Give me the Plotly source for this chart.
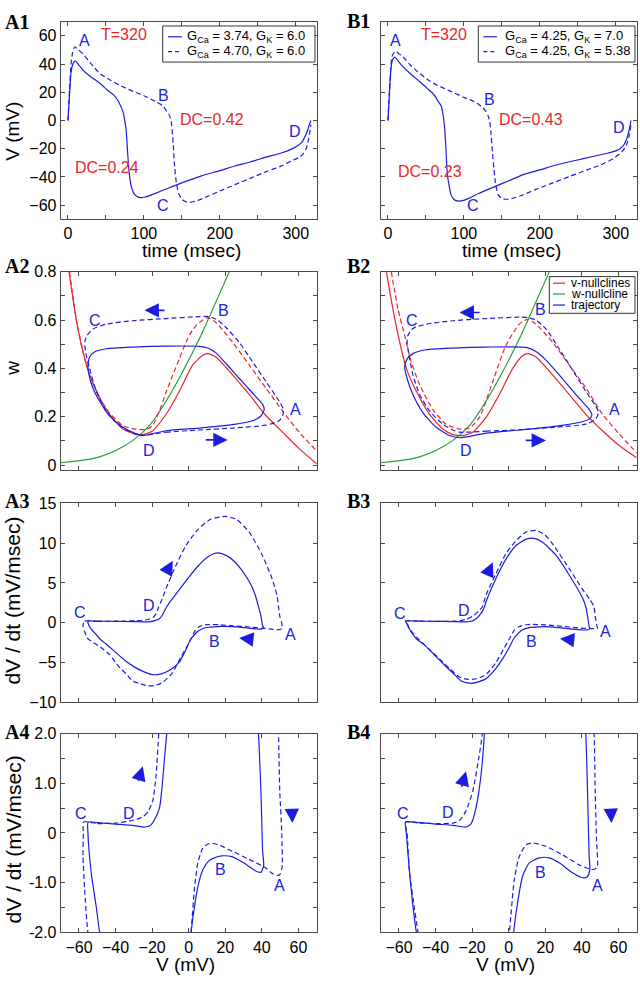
import plotly.graph_objects as go
from plotly.subplots import make_subplots

# ---------------- data ----------------
# A1: V(t) over one period, GCa = 3.74 (solid) / 4.70 (dashed), GK = 6.0
a1_t_sol = [0, 2, 4, 6, 8, 10, 14, 20, 30, 42, 52, 60, 66, 70, 73, 75, 76.5, 78, 79.5, 81.5, 84, 88, 94,
            102, 115, 130, 150, 175, 200, 220, 240, 262, 280, 293, 302, 308, 312, 315, 318, 320]
a1_v_sol = [0, 18, 34, 39.5, 41.7, 42, 39.5, 35.6, 31, 26.4, 21.5, 18.2, 14, 9.5, 5, -1, -6, -18, -30, -41,
            -48, -52.5, -54.6, -54.2, -51.6, -48.4, -44.2, -39.4, -35.5, -32.2, -29.4, -25.8, -23.2, -20.6,
            -18, -15.5, -11.5, -8, -3, 0]
a1_t_das = [0, 2, 4, 6, 9, 13, 20, 30, 42, 55, 70, 86, 100, 115, 125, 130, 134, 136.5, 138.5, 140.5, 143,
            146, 150, 155, 161, 170, 185, 200, 220, 240, 262, 280, 297, 305, 310, 314, 317, 320]
a1_v_das = [0, 22, 40, 48, 52.3, 50.5, 47, 40.5, 33.3, 28.9, 24.5, 20.6, 17.6, 13.6, 10.3, 6.5, 3.3, -3, -16,
            -33, -45, -52, -55.8, -57.5, -58, -56.8, -53.5, -50, -45.4, -41, -36, -32.5, -28, -26, -23.5,
            -19.5, -13, -3]

# B1: GK = 7.0 (solid) / 5.38 (dashed), GCa = 4.25
b1_t_sol = [0, 2, 4, 6, 9, 13, 20, 30, 42, 52, 60, 66, 70, 72, 73.5, 75, 76.5, 78, 80, 83, 87, 91, 96, 105,
            120, 140, 160, 180, 200, 220, 245, 270, 290, 300, 306, 311, 315, 318, 320]
b1_v_sol = [0, 20, 37, 43, 45, 42.5, 38, 33, 27.5, 22.6, 18.7, 13.7, 10.5, 6, 0.5, -8, -22, -37, -44.6, -52.5,
            -56, -57, -57, -55.5, -51.5, -47, -42.5, -38, -35, -31.7, -28.5, -25.5, -23, -21.5, -19.8, -17,
            -12, -6, 0]
b1_t_das = [0, 2, 4, 6, 10, 14, 20, 30, 42, 55, 64, 75, 86, 100, 108, 118, 125, 129, 132, 134, 135.5, 137.5,
            139.5, 141.5, 145, 150, 155, 163, 175, 195, 218, 240, 262, 280, 297, 308, 314, 318, 320]
b1_v_das = [0, 22, 40, 46.5, 49, 47.5, 45, 39, 33.3, 28, 25.2, 22.5, 19.9, 16.4, 14.8, 12, 9, 6.5, 3.2, -1,
            -8, -22, -34, -44, -52.5, -55.2, -55.8, -55.3, -53.3, -48.8, -44, -39.5, -35, -31.5, -26.9,
            -22.2, -17.5, -10, -3]

# A2 / B2: phase plane (V, w)
wnull_v = [-70.2, -57.8, -48.7, -39.6, -30.5, -21.5, -12.4, -3.3, 5.8, 13.1, 22.2]
wnull_w = [0.0095, 0.02, 0.034, 0.061, 0.102, 0.163, 0.264, 0.386, 0.522, 0.644, 0.8]

a2_vnull_sol_v = [-65.5, -61.5, -57.8, -54.2, -48.7, -43.3, -36, -30, -25, -19.6, -12.4, -5.1, 2.2, 7.6, 10.4,
                  14.9, 24, 33.1, 42.2, 51.3, 60.4, 70]
a2_vnull_sol_w = [0.8, 0.603, 0.468, 0.373, 0.278, 0.21, 0.149, 0.13, 0.126, 0.142, 0.21, 0.305, 0.414, 0.454,
                  0.461, 0.447, 0.373, 0.292, 0.205, 0.136, 0.068, 0.005]
a2_vnull_das_v = [-65.2, -61.5, -57.8, -54.2, -48.7, -43.3, -36, -30, -23.3, -19.6, -16, -12.4, -8.7, -5.1,
                  -1.5, 2.2, 5.8, 10.4, 14.9, 24, 33.1, 42.2, 51.3, 60.4, 70]
a2_vnull_das_w = [0.8, 0.603, 0.468, 0.373, 0.278, 0.215, 0.163, 0.15, 0.147, 0.165, 0.224, 0.3, 0.373, 0.44,
                  0.508, 0.56, 0.59, 0.61, 0.59, 0.508, 0.414, 0.319, 0.224, 0.136, 0.058]
a2_traj_sol_v = [-25.1, -12.4, 5.8, 24, 34.9, 39.5, 41.3, 40.4, 34.9, 27.6, 20.4, 14.9, 10.4, 5.8, -12.4,
                 -30.5, -45.1, -51.5, -54.2, -55.1, -54.5, -52.4, -48.7, -43.3, -36, -28.7, -25.1]
a2_traj_sol_w = [0.122, 0.142, 0.153, 0.167, 0.183, 0.203, 0.23, 0.251, 0.298, 0.359, 0.42, 0.464, 0.484,
                 0.491, 0.492, 0.488, 0.481, 0.468, 0.447, 0.414, 0.373, 0.319, 0.264, 0.203, 0.156, 0.129,
                 0.122]
a2_traj_das_v = [-26.9, -12.4, 5.8, 24, 42.2, 49.5, 51.6, 51.8, 49.5, 42.2, 34.9, 27.6, 20.4, 15.8, 11.3, 5.8,
                 -12.4, -30.5, -45.1, -52.4, -55.6, -56.9, -56, -54.2, -50.5, -45.1, -37.8, -30.5, -26.9]
a2_traj_das_w = [0.122, 0.136, 0.145, 0.153, 0.165, 0.183, 0.21, 0.23, 0.264, 0.346, 0.427, 0.508, 0.569, 0.6,
                 0.614, 0.614, 0.606, 0.597, 0.583, 0.563, 0.536, 0.508, 0.454, 0.4, 0.305, 0.224, 0.163,
                 0.132, 0.122]

b2_vnull_sol_v = [-66.9, -63.3, -59.6, -56, -50.5, -43.3, -36, -30.5, -25.1, -19.6, -12.4, -5.1, 2.2, 7.6,
                  10.4, 14.9, 24, 33.1, 42.2, 51.3, 60.4, 70]
b2_vnull_sol_w = [0.8, 0.644, 0.508, 0.4, 0.305, 0.21, 0.149, 0.126, 0.122, 0.136, 0.197, 0.292, 0.4, 0.452,
                  0.461, 0.447, 0.373, 0.292, 0.21, 0.142, 0.081, 0.03]
b2_vnull_das_v = [-64.2, -60.5, -56.9, -53.3, -48.7, -41.5, -34.2, -26.9, -21.5, -16, -8.7, -1.5, 5.8, 10.4,
                  14.9, 24, 33.1, 42.2, 51.3, 60.4, 70]
b2_vnull_das_w = [0.8, 0.644, 0.536, 0.427, 0.332, 0.23, 0.169, 0.149, 0.153, 0.197, 0.346, 0.495, 0.583,
                  0.603, 0.583, 0.508, 0.414, 0.319, 0.21, 0.129, 0.05]
b2_traj_sol_v = [-26.9, -12.4, 5.8, 24, 38.5, 44, 45.5, 44, 36.7, 27.6, 20.4, 14.9, 9.5, -12.4, -30.5, -45.1,
                 -52.4, -55.6, -56.9, -55.6, -52.4, -46.9, -39.6, -32.4, -26.9]
b2_traj_sol_w = [0.113, 0.132, 0.145, 0.159, 0.176, 0.19, 0.207, 0.23, 0.292, 0.373, 0.434, 0.47, 0.487,
                 0.488, 0.484, 0.477, 0.461, 0.438, 0.407, 0.359, 0.292, 0.217, 0.156, 0.122, 0.113]
b2_traj_das_v = [-26.9, -12.4, 5.8, 24, 42.2, 47.6, 49.1, 47.6, 42.2, 34.9, 27.6, 20.4, 14.9, 10.4, 5.8,
                 -12.4, -30.5, -45.1, -52.4, -55.1, -55.6, -54.5, -52.4, -48.7, -43.3, -36, -30.5, -26.9]
b2_traj_das_w = [0.136, 0.14, 0.146, 0.156, 0.169, 0.19, 0.217, 0.244, 0.305, 0.393, 0.481, 0.563, 0.6, 0.61,
                 0.612, 0.606, 0.597, 0.583, 0.565, 0.536, 0.508, 0.454, 0.373, 0.292, 0.224, 0.169, 0.145,
                 0.136]

# A3 / A4: (V, dV/dt) loops
a3_v_sol = [-55.0, -50.0, -40.0, -30.0, -24.0, -21.0, -18.5, -16.0, -14.5, -13.0, -11.5, -9.0, -5.0, 0.0,
            5.0, 10.0, 14.0, 17.0, 21.0, 25.0, 30.0, 34.0, 36.5, 38.2, 39.5, 40.4, 41.0, 39.5, 37.5, 34.0,
            30.0, 24.0, 18.0, 14.0, 11.0, 8.0, 5.5, 3.5, 1.0, -2.0, -5.4, -10.0, -15.0, -20.0, -25.0, -30.0,
            -35.0, -40.0, -45.0, -48.7, -50.5, -53.3, -55.1, -55.0]
a3_dv_sol = [0.22, 0.21, 0.18, 0.15, 0.12, 0.15, 0.28, 0.5, 0.95, 1.6, 2.2, 3.0, 4.2, 5.7, 7.1, 8.2, 8.7,
             8.75, 8.4, 7.7, 6.3, 4.8, 3.4, 2.0, 0.85, -0.34, -0.65, -0.79, -0.78, -0.7, -0.6, -0.48, -0.46,
             -0.5, -0.56, -0.72, -1.0, -1.4, -2.1, -3.6, -5.0, -5.9, -6.4, -6.5, -6.1, -5.5, -4.7, -3.7, -2.7,
             -2.0, -1.5, -0.8, 0.0, 0.22]
a3_v_das = [-57.5, -50.0, -40.0, -34.0, -29.0, -25.0, -22.4, -19.6, -17.8, -16.4, -15.5, -14.5, -12.4, -7.0,
            -1.5, 5.0, 12.0, 20.0, 26.0, 33.0, 40.0, 45.5, 48.3, 49.1, 49.8, 50.9, 51.0, 49.5, 46.0, 42.0,
            33.0, 24.0, 17.0, 13.0, 10.0, 7.5, 5.0, 3.1, 1.3, -1.5, -4.5, -9.0, -14.4, -19.0, -22.6, -26.9,
            -30.7, -34.2, -37.9, -43.3, -48.0, -52.0, -55.1, -56.9, -57.8, -57.6, -57.5]
a3_dv_das = [0.22, 0.19, 0.2, 0.23, 0.27, 0.33, 0.42, 0.65, 1.18, 2.0, 2.5, 3.0, 4.3, 7.2, 9.7, 11.7, 13.0,
             13.35, 13.0, 11.4, 8.6, 5.6, 3.4, 2.0, 0.85, 0.0, -0.7, -0.85, -0.82, -0.7, -0.53, -0.37, -0.25,
             -0.21, -0.23, -0.32, -0.6, -1.13, -2.0, -3.2, -4.4, -6.3, -7.5, -7.9, -7.9, -7.6, -7.3, -6.4,
             -5.6, -4.0, -3.1, -2.5, -2.0, -1.13, -0.47, 0.0, 0.22]

# B3 / B4
b3_v_sol = [-56.4, -48.7, -40.0, -30.5, -23.3, -20.5, -17.8, -15.1, -13.3, -12.4, -6.9, -1.5, 4.0, 9.5, 14.0,
            18.5, 25.8, 33.1, 40.4, 42.2, 43.1, 44.0, 44.4, 43.0, 40.4, 34.9, 27.6, 22.2, 16.7, 11.3, 7.6, 4.9,
            2.7, 0.5, -3.0, -8.0, -13.0, -20.5, -26.0, -30.5, -36.0, -42.0, -46.0, -50.5, -52.4, -54.2, -56.0,
            -56.4]
b3_dv_sol = [0.22, 0.21, 0.18, 0.155, 0.12, 0.19, 0.52, 1.18, 1.98, 2.65, 5.6, 8.0, 9.7, 10.5, 10.6, 10.1,
             8.5, 6.0, 3.1, 1.98, 0.85, -0.47, -0.73, -0.88, -0.9, -0.8, -0.6, -0.5, -0.5, -0.6, -0.87, -1.39,
             -2.0, -3.0, -4.4, -6.0, -7.1, -7.6, -7.3, -6.3, -5.1, -3.7, -2.8, -2.0, -1.46, -0.8, 0.0, 0.22]
b3_v_das = [-56.5, -48.7, -39.6, -30.5, -26.9, -23.3, -19.6, -16.4, -14.5, -12.4, -6.9, -1.5, 4.0, 9.5, 14.9,
            20.0, 24.0, 33.1, 40.4, 44.5, 46.7, 47.3, 48.0, 48.5, 47.0, 44.9, 38.5, 29.5, 20.4, 13.1, 9.5, 5.8,
            3.1, 0.4, -3.0, -7.0, -12.0, -17.0, -22.4, -27.0, -32.0, -38.0, -44.0, -49.6, -52.0, -54.2, -55.6,
            -56.5]
b3_dv_das = [0.22, 0.2, 0.19, 0.2, 0.25, 0.45, 0.85, 1.5, 1.98, 3.5, 6.2, 8.7, 10.3, 11.4, 11.6, 11.0, 9.9,
             6.8, 4.2, 2.9, 1.98, 0.85, -0.14, -0.67, -0.73, -0.73, -0.64, -0.44, -0.27, -0.2, -0.24, -0.47,
             -0.93, -2.0, -3.4, -5.0, -6.4, -7.0, -7.1, -6.8, -5.8, -4.5, -3.2, -2.0, -1.4, -0.8, 0.0, 0.22]

# point labels: (row, col) -> list of (x, y, text)
point_labels = {
    (1, 1): [(22, 56.5, "A"), (125.3, 17.6, "B"), (125.3, -60, "C"), (299, -7.8, "D")],
    (1, 2): [(10.1, 56.5, "A"), (134.1, 14.9, "B"), (112.1, -60.4, "C"), (304.3, -4.9, "D")],
    (2, 1): [(58.2, 0.23, "A"), (18.9, 0.64, "B"), (-51.5, 0.597, "C"), (-21.5, 0.061, "D")],
    (2, 2): [(57.6, 0.23, "A"), (17.6, 0.644, "B"), (-52.9, 0.597, "C"), (-23.3, 0.061, "D")],
    (3, 1): [(55.8, -1.5, "A"), (14, -2.3, "B"), (-59.6, 1.33, "C"), (-21.8, 2.15, "D")],
    (3, 2): [(53.1, -1.1, "A"), (12.2, -2.3, "B"), (-59.6, 1.2, "C"), (-24.7, 1.6, "D")],
    (4, 1): [(49.5, -1.06, "A"), (17.6, -0.73, "B"), (-58.7, 0.4, "C"), (-32.4, 0.4, "D")],
    (4, 2): [(48.5, -1.06, "A"), (17.6, -0.8, "B"), (-57.8, 0.4, "C"), (-33.3, 0.42, "D")],
}
red_labels = {
    (1, 1): [(73.4, 61, "T=320"), (190, 1, "DC=0.42"), (51.5, -33, "DC=0.24")],
    (1, 2): [(73.4, 61, "T=320"), (187.8, 1, "DC=0.43"), (55.8, -36, "DC=0.23")],
}
# direction arrows: (row, col) -> list of (tip, tail)
arrows = {
    (2, 1): [((-24.2, 0.64), (-12.4, 0.64)), ((21.3, 0.104), (8.5, 0.104))],
    (2, 2): [((-26.9, 0.631), (-15.1, 0.631)), ((20.4, 0.102), (8.5, 0.102))],
    (3, 1): [((-8.7, 7.8), (-12.6, 6.2)), ((27.6, -1.9), (35.8, -2.1))],
    (3, 2): [((-8.7, 7.6), (-11.8, 6.0)), ((28, -2.0), (36.7, -2.2))],
    (4, 1): [((-25.1, 1.34), (-27.8, 1.02)), ((56.7, 0.2), (56.4, 0.5))],
    (4, 2): [((-23.3, 1.24), (-26, 0.9)), ((56.2, 0.2), (55.8, 0.5))],
}

BLUE = "#1c1ce0"
RED = "#e8262b"
GREEN = "#22a033"
TXT_BLUE = "#2222d8"
FRAME = "#4a4a4a"
FONT = "Liberation Sans"
W, H = 640, 984

fig = make_subplots(rows=4, cols=2)

# panel frames in pixels of the 640x984 page
col_px = {1: (60.7, 316.7), 2: (380.7, 636.7)}
row_px = {1: (14, 215), 2: (268.3, 470), 3: (504, 706.7), 4: (738.3, 940.7)}


def ref(r, c):
    n = (r - 1) * 2 + c
    return ("x" if n == 1 else "x%d" % n), ("y" if n == 1 else "y%d" % n)


def curve(x, y, r, c, color, dash="solid"):
    fig.add_trace(go.Scatter(x=x, y=y, mode="lines",
                             line=dict(color=color, width=1.2, dash=dash, shape="spline", smoothing=0.6),
                             hoverinfo="skip", showlegend=False), row=r, col=c)


DASH = "5px,3px"

# row 1
curve(a1_t_sol, a1_v_sol, 1, 1, BLUE)
curve(a1_t_das, a1_v_das, 1, 1, BLUE, DASH)
curve(b1_t_sol, b1_v_sol, 1, 2, BLUE)
curve(b1_t_das, b1_v_das, 1, 2, BLUE, DASH)

# row 2
for c, vs, ws, vd, wd, ts, tw, td, tdw in [
        (1, a2_vnull_sol_v, a2_vnull_sol_w, a2_vnull_das_v, a2_vnull_das_w,
         a2_traj_sol_v, a2_traj_sol_w, a2_traj_das_v, a2_traj_das_w),
        (2, b2_vnull_sol_v, b2_vnull_sol_w, b2_vnull_das_v, b2_vnull_das_w,
         b2_traj_sol_v, b2_traj_sol_w, b2_traj_das_v, b2_traj_das_w)]:
    curve(wnull_v, wnull_w, 2, c, GREEN)
    curve(vs, ws, 2, c, RED)
    curve(vd, wd, 2, c, RED, DASH)
    curve(ts, tw, 2, c, BLUE)
    curve(td, tdw, 2, c, BLUE, DASH)

# rows 3 and 4 share the same loops, row 4 is zoomed in
for r in (3, 4):
    fig.add_hline(y=0, line=dict(color="#a8a8a8", width=1, dash="4px,3px"), row=r, col=1)
    fig.add_hline(y=0, line=dict(color="#a8a8a8", width=1, dash="4px,3px"), row=r, col=2)
    curve(a3_v_sol, a3_dv_sol, r, 1, BLUE)
    curve(a3_v_das, a3_dv_das, r, 1, BLUE, DASH)
    curve(b3_v_sol, b3_dv_sol, r, 2, BLUE)
    curve(b3_v_das, b3_dv_das, r, 2, BLUE, DASH)

for (r, c), items in point_labels.items():
    for x, y, t in items:
        fig.add_annotation(x=x, y=y, text=t, showarrow=False,
                           font=dict(family=FONT, size=16, color=TXT_BLUE), row=r, col=c)
for (r, c), items in red_labels.items():
    for x, y, t in items:
        fig.add_annotation(x=x, y=y, text=t, showarrow=False,
                           font=dict(family=FONT, size=16, color=RED), row=r, col=c)
for (r, c), items in arrows.items():
    xr, yr = ref(r, c)
    for tip, tail in items:
        fig.add_annotation(x=tip[0], y=tip[1], ax=tail[0], ay=tail[1], xref=xr, yref=yr,
                           axref=xr, ayref=yr, text="", showarrow=True, arrowhead=2,
                           arrowsize=1.8, arrowwidth=1.6, arrowcolor=BLUE)

# axes
fig.update_xaxes(showline=True, linewidth=1, linecolor=FRAME, mirror="ticks", ticks="inside", ticklen=4,
                 tickcolor=FRAME, showgrid=False, zeroline=False,
                 tickfont=dict(family=FONT, size=16, color="black"))
fig.update_yaxes(showline=True, linewidth=1, linecolor=FRAME, mirror="ticks", ticks="inside", ticklen=4,
                 tickcolor=FRAME, showgrid=False, zeroline=False,
                 tickfont=dict(family=FONT, size=16, color="black"))

for r in range(1, 5):
    for c in (1, 2):
        fig.update_xaxes(domain=[col_px[c][0] / W, col_px[c][1] / W], row=r, col=c)
        fig.update_yaxes(domain=[1 - row_px[r][1] / H, 1 - row_px[r][0] / H], row=r, col=c,
                         showticklabels=(c == 1))

fig.update_xaxes(range=[-9.6, 327.6], tickvals=[0, 50, 100, 150, 200, 250, 300],
                 ticktext=["0", "", "100", "", "200", "", "300"], row=1)
fig.update_yaxes(range=[-70, 70], tickvals=[-60, -40, -20, 0, 20, 40, 60], row=1)
for r in (2, 3, 4):
    fig.update_xaxes(range=[-70, 70], tickvals=[-60, -40, -20, 0, 20, 40, 60],
                     showticklabels=(r == 4), row=r)
fig.update_yaxes(range=[-0.02, 0.8], tickvals=[0, 0.1, 0.2, 0.3, 0.4, 0.5, 0.6, 0.7, 0.8],
                 ticktext=["0", "", "0.2", "", "0.4", "", "0.6", "", "0.8"], row=2)
fig.update_yaxes(range=[-10, 15], tickvals=[-10, -5, 0, 5, 10, 15], row=3)
fig.update_yaxes(range=[-2, 2], tickvals=[-2, -1.5, -1, -0.5, 0, 0.5, 1, 1.5, 2],
                 ticktext=["-2.0", "", "-1.0", "", "0", "", "1.0", "", "2.0"], row=4)


def paper(px, py):
    return px / W, 1 - py / H


def note(px, py, text, size, angle=0, family=FONT, xanchor="center", color="black"):
    x, y = paper(px, py)
    fig.add_annotation(x=x, y=y, xref="paper", yref="paper", text=text, showarrow=False,
                       textangle=angle, xanchor=xanchor, yanchor="middle",
                       font=dict(family=family, size=size, color=color))


# axis titles
note(191.7, 246.5, "time (msec)", 19)
note(511.7, 246.5, "time (msec)", 19)
note(185, 973.5, "V (mV)", 19)
note(505, 973.5, "V (mV)", 19)
note(13, 126, "V (mV)", 19, angle=-90)
note(13, 367, "w", 19, angle=-90)
note(13, 603, "dV / dt (mV/msec)", 21, angle=-90)
note(13, 846, "dV / dt (mV/msec)", 21, angle=-90)

# panel letters
for lbl, px, py in [("A1", 3, 14.5), ("B1", 345, 13.5), ("A2", 3, 263), ("B2", 345, 262.5),
                    ("A3", 3, 501.5), ("B3", 345, 501.5), ("A4", 3, 737), ("B4", 345, 737)]:
    note(px, py, "<b>%s</b>" % lbl, 20, family="Liberation Serif", xanchor="left")


# hand-drawn legends (short sample lines like the original)
def box(px0, px1, py0, py1):
    x0, y0 = paper(px0, py1)
    x1, y1 = paper(px1, py0)
    fig.add_shape(type="rect", xref="paper", yref="paper", x0=x0, x1=x1, y0=y0, y1=y1,
                  line=dict(color="#333333", width=1), fillcolor="white", layer="above")


def entry(px0, px1, py, text, color, dash, size, tx):
    x0, y = paper(px0, py)
    x1, _ = paper(px1, py)
    fig.add_shape(type="line", xref="paper", yref="paper", x0=x0, x1=x1, y0=y, y1=y,
                  line=dict(color=color, width=1.2, dash=dash), layer="above")
    note(tx, py, text, size, xanchor="left")


box(162.7, 315, 18.3, 55)
entry(168, 182, 29.3, "G<sub>Ca</sub> = 3.74, G<sub>K</sub> = 6.0", BLUE, "solid", 13, 185)
entry(168, 182, 44.3, "G<sub>Ca</sub> = 4.70, G<sub>K</sub> = 6.0", BLUE, "4px,3px", 13, 185)
box(478.3, 635, 18.3, 55)
entry(483.3, 497, 29.3, "G<sub>Ca</sub> = 4.25, G<sub>K</sub> = 7.0", BLUE, "solid", 13, 503)
entry(483.3, 497, 44.3, "G<sub>Ca</sub> = 4.25, G<sub>K</sub> = 5.38", BLUE, "4px,3px", 13, 503)
box(549.3, 635, 273.3, 310.7)
entry(553, 565, 280, "v-nullclines", RED, "solid", 12, 569)
entry(553, 565, 291, "w-nullcline", GREEN, "solid", 12, 569)
entry(553, 565, 302.3, "trajectory", BLUE, "solid", 12, 569)

fig.update_layout(width=W, height=H, margin=dict(l=0, r=0, t=0, b=0),
                  plot_bgcolor="white", paper_bgcolor="white", showlegend=False)

# the page body has a default 8px margin; drop it so the 640x984 figure fills the window
fig.write_html("out.html", config={"displayModeBar": False},
               post_script="document.body.style.margin='0';")
